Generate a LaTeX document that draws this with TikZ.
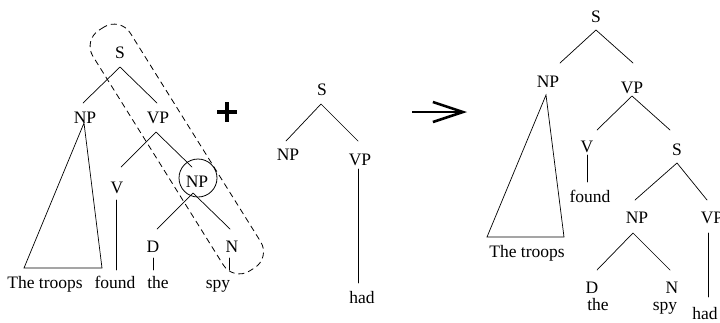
\documentclass[tikz,border=0pt]{standalone}
\usepackage{fontspec}
\setmainfont{Liberation Serif}
\usetikzlibrary{arrows.meta}
\begin{document}
\begin{tikzpicture}[x=1pt,y=-1pt,
  lab/.style={anchor=base,inner sep=0pt,font=\fontsize{17.5}{20}\selectfont},
  edge/.style={line width=0.7pt,line cap=round},
  capsule/.style={line width=0.8pt,dash pattern=on 6pt off 4pt,rounded corners=19pt},
  ring/.style={draw,circle,line width=0.8pt,minimum size=38pt,inner sep=0pt},
  bigarrow/.style={line width=2.6pt,-{Straight Barb[length=30pt,width=20pt,line width=2.6pt]}},
  plusbar/.style={line width=4pt}]
\useasboundingbox (0,0) rectangle (720,322);

% ---------------- left tree ----------------
\node[lab] (lS)   at (120,58)  {S};
\node[lab] (lNP)  at (85,123)  {NP};
\node[lab] (lVP)  at (158,123) {VP};
\node[lab] (lV)   at (117,193) {V};
\node[ring] (lring) at (198,178) {};
\node[lab] (lNP2) at (197,187) {NP};
\node[lab] (lD)   at (153,252) {D};
\node[lab] (lN)   at (232,252) {N};
\node[lab] (wThe) at (45,288)  {The troops};
\node[lab] (wfound) at (115,288) {found};
\node[lab] (wthe) at (158,288) {the};
\node[lab] (wspy) at (218,288) {spy};

\coordinate (lS-b)   at (120,67);
\coordinate (lNP-t)  at (83,103);
\coordinate (lVP-t)  at (157,103);
\coordinate (lNP-a)  at (84,123);
\coordinate (lTri-l) at (24,268);
\coordinate (lTri-r) at (102,268);
\coordinate (lVP-b)  at (156,132);
\coordinate (lV-t)   at (121,167);
\coordinate (lring-t) at (192,167);
\coordinate (lV-b)   at (116,200);
\coordinate (wfound-t) at (116,270);
\coordinate (lNP2-b) at (193,193);
\coordinate (lD-t)   at (157,229);
\coordinate (lN-t)   at (230,229);
\coordinate (lD-b)   at (153,258);
\coordinate (wthe-t) at (153,270);
\coordinate (lN-b)   at (229,258);
\coordinate (wspy-t) at (229,270);

\draw[edge] (lNP-t) -- (lS-b) -- (lVP-t);
\draw[edge] (lNP-a) -- (lTri-l) -- (lTri-r) -- cycle;
\draw[edge] (lV-t) -- (lVP-b) -- (lring-t);
\draw[edge] (lV-b) -- (wfound-t);
\draw[edge] (lD-t) -- (lNP2-b) -- (lN-t);
\draw[edge] (lD-b) -- (wthe-t);
\draw[edge] (lN-b) -- (wspy-t);

\begin{scope}[shift={(176.8,149)},rotate=-58]
  \draw[capsule] (-142,-22) rectangle (142,22);
\end{scope}

% ---------------- plus ----------------
\coordinate (plus) at (227,112);
\draw[plusbar] ([xshift=-10pt]plus) -- ([xshift=10pt]plus);
\draw[plusbar] ([yshift=10pt]plus) -- ([yshift=-10pt]plus);

% ---------------- middle tree ----------------
\node[lab] (mS)  at (322,95)  {S};
\node[lab] (mNP) at (288,160) {NP};
\node[lab] (mVP) at (360,165) {VP};
\node[lab] (mhad) at (362,303) {had};
\coordinate (mS-b)  at (321,104);
\coordinate (mNP-t) at (286,141);
\coordinate (mVP-t) at (358,141);
\coordinate (mVP-b) at (358,169);
\coordinate (mhad-t) at (358,283);
\draw[edge] (mNP-t) -- (mS-b) -- (mVP-t);
\draw[edge] (mVP-b) -- (mhad-t);

% ---------------- arrow ----------------
\coordinate (arrS) at (412,112);
\coordinate (arrE) at (467,112);
\draw[bigarrow] (arrS) -- (arrE);

% ---------------- right tree ----------------
\node[lab] (rS)   at (596,22)  {S};
\node[lab] (rNP)  at (548,87)  {NP};
\node[lab] (rVP)  at (632,93)  {VP};
\node[lab] (rThe) at (527,257) {The troops};
\node[lab] (rV)   at (587,152) {V};
\node[lab] (rfound) at (590,202) {found};
\node[lab] (rS2)  at (677,155) {S};
\node[lab] (rNP2) at (637,223) {NP};
\node[lab] (rVP2) at (712,223) {VP};
\node[lab] (rD)   at (592,293) {D};
\node[lab] (rN)   at (672,293) {N};
\node[lab] (rthe) at (598,310) {the};
\node[lab] (rspy) at (665,310) {spy};
\node[lab] (rhad) at (705,319) {had};

\coordinate (rS-b)   at (596,30);
\coordinate (rNP-t)  at (560,63);
\coordinate (rVP-t)  at (633,63);
\coordinate (rNP-a)  at (546,95);
\coordinate (rTri-l) at (487,237);
\coordinate (rTri-r) at (564,237);
\coordinate (rVP-b)  at (632,96);
\coordinate (rV-t)   at (597,130);
\coordinate (rS2-t)  at (670,130);
\coordinate (rV-b)   at (587,155);
\coordinate (rfound-t) at (587,182);
\coordinate (rS2-b)  at (677,163);
\coordinate (rNP2-t) at (635,200);
\coordinate (rVP2-t) at (707,200);
\coordinate (rNP2-b) at (633,233);
\coordinate (rD-t)   at (597,270);
\coordinate (rN-t)   at (670,270);
\coordinate (rVP2-b) at (708,233);
\coordinate (rhad-t) at (708,297);

\draw[edge] (rNP-t) -- (rS-b) -- (rVP-t);
\draw[edge] (rNP-a) -- (rTri-l) -- (rTri-r) -- cycle;
\draw[edge] (rV-t) -- (rVP-b) -- (rS2-t);
\draw[edge] (rV-b) -- (rfound-t);
\draw[edge] (rNP2-t) -- (rS2-b) -- (rVP2-t);
\draw[edge] (rD-t) -- (rNP2-b) -- (rN-t);
\draw[edge] (rVP2-b) -- (rhad-t);
\end{tikzpicture}
\end{document}
